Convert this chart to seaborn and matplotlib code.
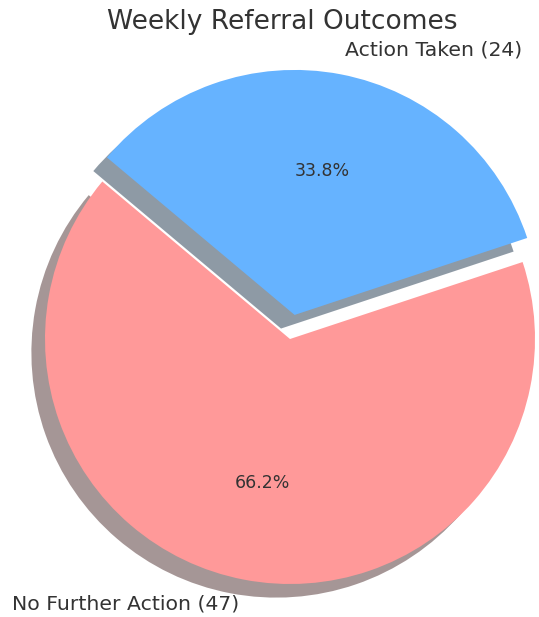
import matplotlib
matplotlib.use('Agg')
from matplotlib import pyplot as plt
import seaborn as sns

# dane z wykresu
labels = ['No Further Action (47)', 'Action Taken (24)']
counts = [47, 24]
colors = ['#ff9999', '#66b3ff']
explode = [0, 0.1]

sns.set_theme(style='white')
plt.rcParams['font.family'] = ['DejaVu Sans']

fig = plt.figure(figsize=(5.39, 6.17), dpi=100)
ax = fig.add_axes([0, 0, 1, 1])

ax.pie(counts, labels=labels, colors=colors, explode=explode,
       autopct='%1.1f%%', startangle=140,
       shadow={'ox': -0.04, 'oy': -0.04},
       wedgeprops={'linewidth': 0, 'edgecolor': 'none'},
       textprops={'fontsize': 14.7, 'color': '#333333'})
for t in ax.texts:
    if t.get_text().endswith('%'):
        t.set_fontsize(12.5)

r = 245.0  # promien w pikselach
ax.set_xlim(-290 / r, (539 - 290) / r)
ax.set_ylim(-(617 - 339) / r, 339 / r)
ax.set_aspect('auto')
ax.axis('off')

fig.text(0.524, 1 - 22 / 617, 'Weekly Referral Outcomes', ha='center', va='center',
         fontsize=19, color='#333333')

fig.savefig('out.png', dpi=100)
